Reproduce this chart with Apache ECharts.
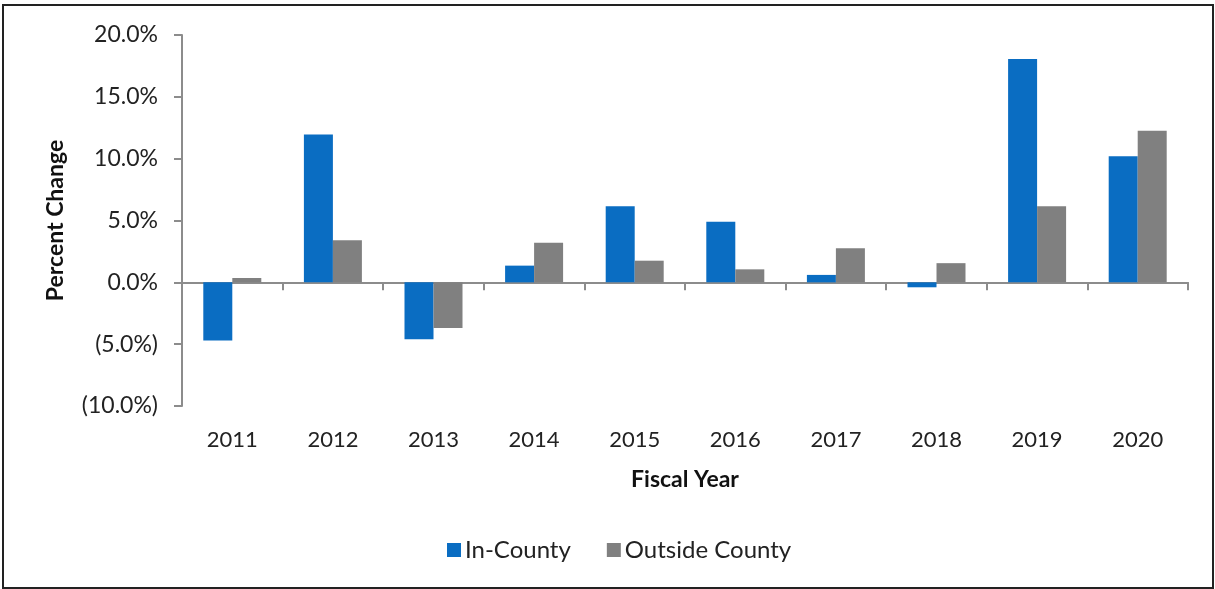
<!DOCTYPE html>
<html>
<head>
<meta charset="utf-8">
<script src="https://cdn.jsdelivr.net/npm/echarts@6/dist/echarts.min.js"></script>
<style>
  html, body { margin: 0; padding: 0; background: #fff; }
  #chart { width: 1215px; height: 589px; }
</style>
</head>
<body>
<div id="chart"></div>
<script>
// Fiscal years on the category axis
const years = ['2011', '2012', '2013', '2014', '2015', '2016', '2017', '2018', '2019', '2020'];
// Year-over-year percent change
const inCounty = [-4.7, 11.95, -4.6, 1.35, 6.15, 4.9, 0.6, -0.4, 18.05, 10.2];
const outsideCounty = [0.35, 3.4, -3.7, 3.2, 1.75, 1.05, 2.75, 1.55, 6.15, 12.25];
const seriesNames = ['In-County', 'Outside County'];

const FONT = 'Lato, "Open Sans", sans-serif';
const AXIS_GRAY = '#8c8c8c';

function pct(v) {
  const s = Math.abs(v).toFixed(1) + '%';
  return v < 0 ? '(' + s + ')' : s;
}

const chart = echarts.init(document.getElementById('chart'), null, { renderer: 'canvas' });

chart.setOption({
  backgroundColor: '#ffffff',
  animation: false,
  grid: { left: 182, right: 27, top: 35, bottom: 183 },
  legend: {
    data: seriesNames,
    bottom: 22,
    left: 442,
    itemWidth: 14,
    itemHeight: 14,
    itemGap: 36,
    icon: 'rect',
    textStyle: { fontFamily: FONT, fontSize: 24, color: '#222', padding: [0, 0, 0, -1] }
  },
  xAxis: [
    {
      // axis line and ticks crossing at zero
      type: 'category',
      data: years,
      axisLine: { onZero: true, lineStyle: { color: AXIS_GRAY, width: 2 } },
      axisTick: { show: true, length: 8, inside: false, lineStyle: { color: AXIS_GRAY, width: 2 } },
      axisLabel: { show: false },
      splitLine: { show: false }
    },
    {
      // year labels and title at the bottom of the plot
      type: 'category',
      data: years,
      position: 'bottom',
      offset: 0,
      axisLine: { show: false },
      axisTick: { show: false },
      axisLabel: { show: true, margin: 23, fontFamily: FONT, fontSize: 22, color: '#222' },
      name: 'Fiscal Year',
      nameLocation: 'middle',
      nameGap: 62,
      nameTextStyle: { fontFamily: FONT, fontSize: 23, fontWeight: 'bold', color: '#111' }
    }
  ],
  yAxis: {
    type: 'value',
    min: -10,
    max: 20,
    interval: 5,
    axisLine: { show: true, lineStyle: { color: AXIS_GRAY, width: 2 } },
    axisTick: { show: true, length: 8, lineStyle: { color: AXIS_GRAY, width: 2 } },
    splitLine: { show: false },
    axisLabel: {
      margin: 24,
      fontFamily: FONT,
      fontSize: 23,
      color: '#222',
      formatter: pct
    },
    name: 'Percent Change',
    nameLocation: 'middle',
    nameRotate: 90,
    nameGap: 115,
    nameTextStyle: { fontFamily: FONT, fontSize: 23, fontWeight: 'bold', color: '#111' }
  },
  series: [
    {
      name: seriesNames[0],
      type: 'bar',
      xAxisIndex: 0,
      data: inCounty,
      barWidth: 29,
      barGap: '0%',
      itemStyle: { color: '#0A6DC2' }
    },
    {
      name: seriesNames[1],
      type: 'bar',
      xAxisIndex: 0,
      data: outsideCounty,
      barWidth: 29,
      barGap: '0%',
      itemStyle: { color: '#808080' }
    }
  ],
  graphic: [
    {
      type: 'rect',
      shape: { x: 3, y: 5, width: 1210, height: 583 },
      style: { fill: 'none', stroke: '#222', lineWidth: 2 },
      silent: true
    }
  ]
});
</script>
</body>
</html>
